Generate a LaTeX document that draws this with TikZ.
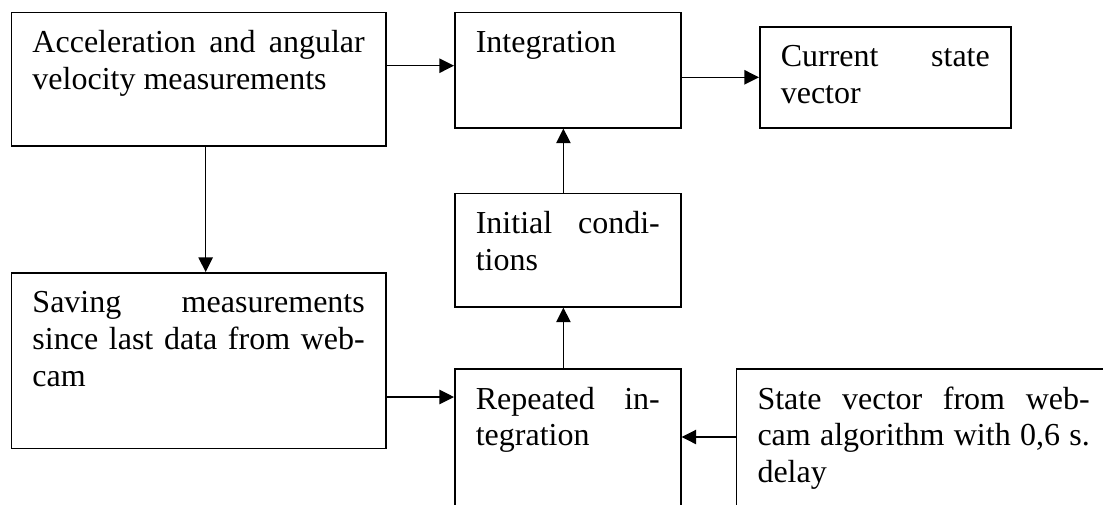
\documentclass[tikz,border=0pt]{standalone}
\usepackage{fontspec}
\setmainfont{Liberation Serif}
\usetikzlibrary{arrows.meta, positioning}

% text block inside a box: width, height, text
\newcommand{\boxtxt}[3]{\parbox[c][#2][t]{#1}{\fontsize{16pt}{18.3pt}\selectfont\strut #3}}

\begin{document}
\begin{tikzpicture}[
        x=0.5pt, y=-0.5pt,
        blk/.style={draw, line width=0.8pt, inner xsep=10.5pt, inner ysep=7.2pt, anchor=north west},
        arr/.style={draw, line width=0.65pt, -{Triangle[length=7.3pt, width=7.2pt]}}
        ]
        \clip (0,0) rectangle (1103,504);
        \node[blk] (acc)  at (10.7,11.7)  {\boxtxt{166.15pt}{52.25pt}{Acceleration and angular\linebreak velocity measurements}};
        \node[blk] (intg) at (454,11.7)   {\boxtxt{92pt}{43.25pt}{Integration}};
        \node[blk] (cur)  at (759,26)     {\boxtxt{104.5pt}{36.1pt}{Current state\linebreak vector}};
        \node[blk] (init) at (454,192.7)  {\boxtxt{92pt}{42.25pt}{Initial condi-\linebreak tions}};
        \node[blk] (sav)  at (10.7,272)   {\boxtxt{166.15pt}{73.45pt}{Saving measurements\linebreak since last data from web-\linebreak cam}};
        \node[blk] (rep)  at (454,368.3)  {\boxtxt{92pt}{73.45pt}{Repeated in-\linebreak tegration}};
        \node[blk] (cam)  at (735.7,368.3) {\boxtxt{166.15pt}{73.45pt}{State vector from web-\linebreak cam algorithm with 0,6 s.\linebreak delay}};

        % connectors
        \draw[arr] ([yshift=-27pt]acc.north east) -- ([yshift=-27pt]intg.north west);
        \draw[arr] (intg.east |- cur.west) -- (cur.west);
        \draw[arr] ([xshift=3.5pt]acc.south) -- ([xshift=3.5pt]sav.north);
        \draw[arr] ([xshift=-2.2pt]init.north) -- ([xshift=-2.2pt]intg.south);
        \draw[arr] ([xshift=-2.2pt]rep.north) -- ([xshift=-2.2pt]init.south);
        \coordinate (sr) at ([yshift=-14.35pt]rep.north west);
        \draw[arr] (sav.east |- sr) -- (sr);
        \draw[arr] ([yshift=-34.35pt]cam.north west) -- ([yshift=-34.35pt]rep.north east);
\end{tikzpicture}
\end{document}
